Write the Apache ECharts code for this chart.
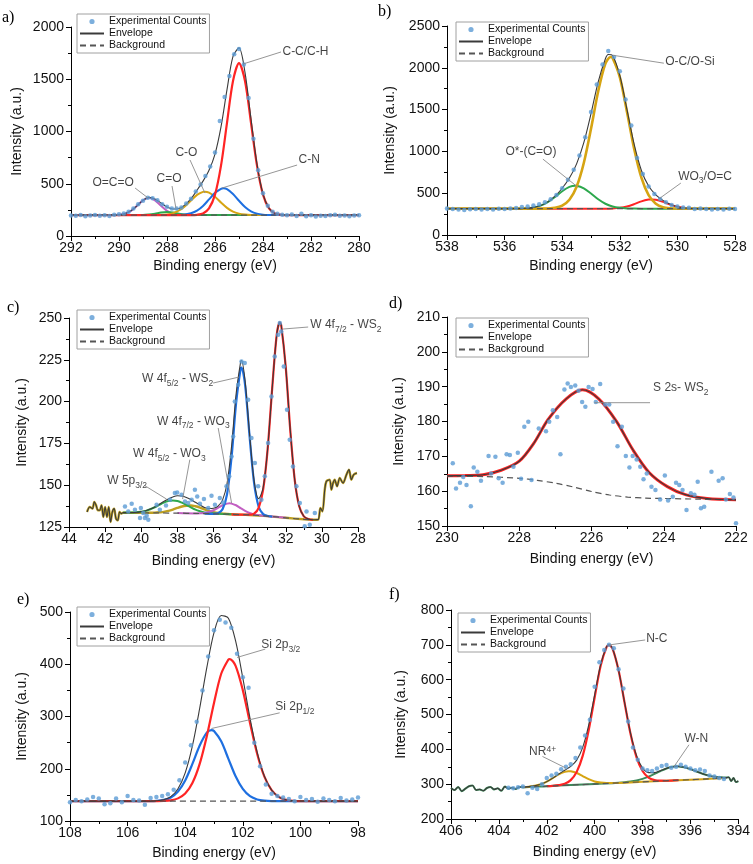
<!DOCTYPE html>
<html><head><meta charset="utf-8">
<script src="https://cdn.jsdelivr.net/npm/echarts@6/dist/echarts.min.js"></script>
<style>html,body{margin:0;padding:0;background:#fff}#c{width:753px;height:864px}</style>
</head><body><div id="c"></div>
<script>
// ---------------- Panel a : C 1s ----------------
const aScatter = [[292.0,197],[291.8,193],[291.6,200],[291.4,190],[291.2,196],[291.0,201],[290.8,194],[290.6,199],[290.4,191],[290.2,204],[290.0,208],[289.8,216],[289.6,232],[289.4,262],[289.2,305],[289.0,338],[288.8,367],[288.6,362],[288.4,342],[288.2,305],[288.0,281],[287.8,262],[287.6,262],[287.4,272],[287.2,311],[287.0,356],[286.8,425],[286.6,492],[286.4,575],[286.2,665],[286.0,800],[285.8,1100],[285.6,1330],[285.4,1530],[285.2,1740],[285.0,1790],[284.8,1640],[284.6,1320],[284.4,930],[284.2,630],[284.0,410],[283.8,290],[283.6,232],[283.4,212],[283.2,203],[283.0,199],[282.8,205],[282.6,192],[282.4,212],[282.2,190],[282.0,198],[281.8,186],[281.6,194],[281.4,192],[281.2,199],[281.0,204],[280.8,193],[280.6,197],[280.4,190],[280.2,195],[280.0,199]];
const aBackground = [[292,200],[280,200]];
const aCC = [[292,200],[287.0,200],[286.75,203],[286.5,216],[286.25,264],[286.0,396],[285.75,673],[285.5,1083],[285.25,1483],[285.0,1655],[284.75,1483],[284.5,1083],[284.25,673],[284.0,396],[283.75,264],[283.5,216],[283.25,203],[283.0,200],[280,200]];
const aCN = [[292,200],[287.75,200],[287.5,202],[287.25,206],[287.0,217],[286.75,242],[286.5,287],[286.25,350],[286.0,413],[285.75,452],[285.65,456],[285.5,448],[285.25,402],[285.0,337],[284.75,277],[284.5,236],[284.25,214],[284.0,204],[283.75,201],[283.5,200],[280,200]];
const aCO = [[292,200],[288.5,200],[288.25,202],[288.0,207],[287.75,219],[287.5,244],[287.25,286],[287.0,340],[286.75,393],[286.5,422],[286.42,424],[286.25,415],[286.0,375],[285.75,320],[285.5,269],[285.25,233],[285.0,214],[284.75,205],[284.5,201],[284.25,200],[280,200]];
const aC2O = [[292,200],[289.0,200],[288.75,205],[288.5,214],[288.25,225],[288.0,230],[287.75,225],[287.5,214],[287.25,205],[287.0,200],[280,200]];
const aOCO = [[292,200],[290.5,200],[290.25,201],[290.0,203],[289.75,214],[289.5,241],[289.25,289],[289.0,341],[288.75,365],[288.5,341],[288.25,289],[288.0,241],[287.75,214],[287.5,203],[287.25,201],[287.0,200],[280,200]];
const aEnvelope = [[292,200],[290.5,200],[290.25,201],[290.0,203],[289.75,214],[289.5,241],[289.25,289],[289.0,341],[288.75,370],[288.5,355],[288.25,316],[288.0,278],[287.75,258],[287.5,263],[287.25,298],[287.0,357],[286.75,438],[286.5,525],[286.25,629],[286.0,784],[285.75,1045],[285.5,1400],[285.25,1718],[285.0,1800],[284.75,1565],[284.5,1120],[284.25,687],[284.0,400],[283.75,265],[283.5,216],[283.25,203],[283.0,200],[280,200]];
const aNotes = [
  ['{n|C-C/C-H}', 283.21, 1751, 284.83, 1646, 283.25, 1761],
  ['{n|C-N}', 282.54, 718, 285.71, 459, 282.58, 679],
  ['{n|C-O}', 287.67, 785, 287.04, 727, 286.42, 411],
  ['{n|C=O}', 288.46, 536, 287.79, 478, 287.63, 268],
  ['{n|O=C=O}', 291.13, 498, 289.33, 459, 288.79, 364]
];

// ---------------- Panel b : O 1s ----------------
const bScatter = [[538.0,318],[537.8,312],[537.6,305],[537.4,300],[537.2,308],[537.0,312],[536.8,305],[536.6,310],[536.4,306],[536.2,313],[536.0,310],[535.8,318],[535.6,322],[535.4,335],[535.2,340],[535.0,352],[534.8,368],[534.6,392],[534.4,428],[534.2,478],[534.0,560],[533.8,660],[533.6,780],[533.4,950],[533.2,1170],[533.0,1470],[532.8,1800],[532.6,2040],[532.4,2200],[532.2,2130],[532.0,1960],[531.8,1620],[531.6,1310],[531.4,920],[531.2,730],[531.0,580],[530.8,490],[530.6,430],[530.4,392],[530.2,358],[530.0,340],[529.8,330],[529.6,325],[529.4,312],[529.2,318],[529.0,310],[528.8,305],[528.6,312],[528.4,306],[528.2,315],[528.0,310]];
const bBackground = [[538,315],[528,315]];
const bOC = [[538,315],[534.75,315],[534.5,317],[534.25,325],[534.0,351],[533.75,421],[533.5,577],[533.25,861],[533.0,1270],[532.75,1719],[532.5,2050],[532.32,2130],[532.25,2118],[532.0,1889],[531.75,1471],[531.5,1028],[531.25,685],[531.0,476],[530.75,374],[530.5,333],[530.25,320],[530.0,316],[529.75,315],[528,315]];
const bOstar = [[538,315],[535.75,315],[535.5,316],[535.25,320],[535.0,330],[534.75,352],[534.5,394],[534.25,454],[534.0,523],[533.75,575],[533.55,590],[533.5,589],[533.25,558],[533.0,496],[532.75,428],[532.5,374],[532.25,341],[532.0,325],[531.75,318],[531.5,316],[531.25,315],[528,315]];
const bWO3 = [[538,315],[532.5,315],[532.25,318],[532.0,325],[531.75,341],[531.5,369],[531.25,402],[531.0,424],[530.9,426],[530.75,421],[530.5,396],[530.25,363],[530.0,337],[529.75,323],[529.5,317],[529.25,315],[528,315]];
const bEnvelope = [[538,315],[536.0,315],[535.75,315],[535.5,316],[535.25,320],[535.0,330],[534.75,352],[534.5,396],[534.25,464],[534.0,559],[533.75,681],[533.5,851],[533.25,1104],[533.0,1451],[532.75,1832],[532.5,2109],[532.4,2159],[532.25,2147],[532.0,1909],[531.75,1500],[531.5,1083],[531.25,772],[531.0,585],[530.75,480],[530.5,414],[530.25,368],[530.0,338],[529.75,323],[529.5,317],[529.25,315],[528,315]];
const bNotes = [
  ['{n|O-C/O-Si}', 530.44, 2055, 532.24, 2150, 530.47, 2055],
  ['{n|O*-(C=O)}', 535.99, 980, 534.67, 908, 533.46, 573],
  ['{n|WO}{s|3}{n|/O=C}', 529.99, 681, 530.65, 430, 529.88, 621]
];

// ---------------- Panel c : W 4f ----------------
const cScatter = [[40.9,137.3],[40.72,134.3],[40.53,138.9],[40.35,135.3],[40.07,130.4],[40.02,136.4],[39.89,133.4],[39.8,130.4],[39.7,131.7],[39.61,129.4],[39.15,138.3],[38.97,135.3],[38.63,137.9],[38.41,141.3],[38.14,145.3],[38.01,145.7],[37.77,144.3],[37.58,140.3],[37.4,139.4],[37.21,141.3],[37.03,147.3],[36.9,143.3],[36.75,138.9],[36.53,141.7],[36.29,136.4],[36.11,143.7],[35.92,138.3],[35.65,142.3],[35.47,139.7],[35.28,149.3],[35.13,155.3],[35.0,167.2],[34.91,179.2],[34.82,200.1],[34.63,210.1],[34.45,224.0],[34.27,223.1],[34.08,201.1],[33.9,178.2],[33.71,163.3],[33.53,149.3],[33.35,141.3],[33.16,155.3],[32.98,175.2],[32.79,203.1],[32.61,227.0],[32.42,240.0],[32.33,247],[32.25,242],[32.11,221.0],[31.93,195.2],[31.78,177.2],[31.6,161.2],[31.41,149.3],[31.22,139.4],[30.95,125.4],[30.85,134.3],[30.67,126.4],[30.39,133.4]];
const cNoiseL = [[43.0,134],[42.85,137],[42.7,136],[42.6,140],[42.5,138],[42.4,135],[42.3,135],[42.2,138],[42.1,131],[42.0,137],[41.9,131],[41.8,137],[41.7,128],[41.6,134],[41.5,136],[41.4,130],[41.3,129],[41.2,134],[41.1,133]];
const cNoiseR = [[30.21,129.4],[30.08,136.4],[29.97,134.3],[29.84,147.3],[29.75,152.3],[29.57,153.3],[29.47,147.3],[29.38,151.3],[29.29,153.3],[29.16,149.3],[29.01,154.3],[28.83,151.3],[28.64,156.3],[28.5,159.3],[28.37,153.3],[28.24,156.3],[28.06,157.3]];
const cBackground = [[41.0,133.6],[40.0,133.5],[39.0,133.4],[38.0,133.3],[37.0,133.1],[36.0,132.9],[35.0,132.6],[34.0,132.2],[33.0,131.5],[32.5,131.0],[32.0,130.5],[31.5,130.0],[31.0,129.6],[30.5,129.3]];
const cWS2a = [[35.0,132.6],[34.5,132.4],[34.0,132.4],[33.75,133.05],[33.5,136.5],[33.25,147.5],[33.0,171.9],[32.75,208.05],[32.5,239.9],[32.33,247.4],[32.25,245.65],[32.0,220.6],[31.75,182.95],[31.5,152.9],[31.25,137.2],[31.0,131.4],[30.75,129.75],[30.5,129.3]];
const cWS2b = [[36.5,133.0],[36.0,132.9],[35.75,133.25],[35.5,135.6],[35.25,144.6],[35.0,166.8],[34.75,198.9],[34.5,219.7],[34.45,220.4],[34.25,209.9],[34.0,178.9],[33.75,151.05],[33.5,137.1],[33.25,132.7],[33.0,131.6],[32.75,131.25]];
const cWO3a = [[38.0,133.3],[37.0,133.1],[36.75,133.2],[36.5,133.4],[36.25,134.0],[36.0,135.0],[35.75,136.45],[35.5,138.0],[35.25,139.0],[35.1,139.2],[35.0,139.0],[34.75,138.0],[34.5,136.3],[34.25,134.7],[34.0,133.4],[33.75,132.55],[33.5,132.1],[33.25,131.7],[33.0,131.5],[32.0,130.5]];
const cW5p = [[41.0,133.6],[40.75,133.6],[40.5,133.6],[40.25,133.8],[40.0,134.2],[39.75,134.65],[39.5,135.6],[39.25,136.8],[39.0,138.2],[38.75,139.55],[38.5,140.5],[38.25,140.9],[38.0,140.6],[37.75,139.55],[37.5,138.2],[37.25,136.75],[37.0,135.4],[36.75,134.45],[36.5,133.7],[36.25,133.35],[36.0,133.1],[35.75,132.85],[35.0,132.6]];
const cWO3b = [[41.0,133.6],[40.0,133.5],[39.5,133.5],[39.25,133.6],[39.0,133.8],[38.75,134.05],[38.5,134.6],[38.25,135.4],[38.0,136.4],[37.75,137.25],[37.5,137.7],[37.25,137.85],[37.0,137.4],[36.75,136.65],[36.5,135.6],[36.25,134.65],[36.0,133.9],[35.75,133.35],[35.5,133.05],[35.25,132.8],[35.0,132.6],[34.0,132.2],[33.0,131.5],[32.0,130.5],[31.0,129.6],[30.5,129.3]];
const cEnvelope = [[41.0,133.6],[40.75,133.6],[40.5,133.6],[40.25,133.8],[40.0,134.2],[39.75,134.7],[39.5,135.7],[39.25,137.0],[39.0,138.6],[38.75,140.25],[38.5,141.8],[38.25,143.0],[38.0,143.7],[37.75,143.55],[37.5,142.7],[37.25,141.45],[37.0,139.75],[36.75,138.2],[36.5,136.7],[36.25,136.05],[36.0,136.2],[35.75,137.45],[35.5,141.05],[35.25,151.0],[35.0,173.2],[34.75,204.4],[34.5,223.6],[34.45,224.6],[34.25,212.3],[34.0,180.3],[33.75,152.55],[33.5,141.9],[33.25,148.5],[33.0,172.0],[32.75,208.05],[32.5,239.9],[32.33,247.4],[32.25,245.65],[32.0,220.6],[31.75,182.95],[31.5,152.9],[31.25,137.2],[31.0,131.4],[30.75,129.75],[30.5,129.3]];
const cNotes = [
  ['{n|W 4f}{s|7/2}{n| - WS}{s|2}', 30.67, 245.0, 32.15, 243.4, 30.76, 244.6],
  ['{n|W 4f}{s|5/2}{n| - WS}{s|2}', 39.98, 212.7, 36.02, 211.1, 34.58, 214.7],
  ['{n|W 4f}{s|7/2}{n| - WO}{s|3}', 39.15, 187.2, 35.74, 184.2, 35.0, 139.4],
  ['{n|W 4f}{s|5/2}{n| - WO}{s|3}', 40.48, 167.8, 37.31, 165.3, 37.71, 141.7],
  ['{n|W 5p}{s|3/2}', 41.91, 151.7, 39.8, 149.7, 38.6, 141.7]
];

// ---------------- Panel d : S 2s ----------------
const dScatter = [[229.84,168.0],[229.75,160.8],[229.64,162.4],[229.55,164.1],[229.46,161.8],[229.34,155.7],[229.26,166.8],[229.16,165.6],[229.06,163.0],[228.85,170.1],[228.78,165.1],[228.66,169.9],[228.57,163.7],[228.46,162.4],[228.35,170.6],[228.26,170.4],[228.16,167.0],[228.04,171.0],[227.95,163.6],[227.86,178.5],[227.75,179.9],[227.66,163.2],[227.46,178.0],[227.26,177.2],[227.17,179.9],[227.07,183.2],[226.95,181.3],[226.86,170.6],[226.75,189.2],[226.66,190.9],[226.57,189.9],[226.45,190.3],[226.36,188.8],[226.26,185.6],[226.17,184.2],[226.08,189.9],[225.97,189.3],[225.88,185.6],[225.76,190.8],[225.62,184.9],[225.51,184.9],[225.40,179.9],[225.28,172.9],[225.16,178.5],[225.05,170.1],[224.95,166.8],[224.86,170.1],[224.75,169.1],[224.65,167.0],[224.56,163.4],[224.47,165.1],[224.34,161.3],[224.23,160.3],[224.10,157.6],[223.97,164.5],[223.88,157.3],[223.75,158.4],[223.66,162.4],[223.57,161.8],[223.48,160.3],[223.37,154.6],[223.25,159.4],[223.15,159.0],[223.06,162.7],[222.97,155.1],[222.88,155.5],[222.68,165.6],[222.48,163.0],[222.37,163.7],[222.28,157.6],[222.17,159.2],[222.07,158.2],[222.0,150.8]];
const dBackground = [[230,164.3],[229,164.2],[228,163.7],[227.5,163.1],[227,162.3],[226.5,161.2],[226,159.9],[225.5,158.9],[225,158.3],[224.5,158.0],[224,157.9],[223,157.7],[222,157.5]];
const dS2s = [[230,164.4],[229.5,164.5],[229,164.7],[228.5,166.0],[228,168.6],[227.6,173.7],[227.2,180.6],[226.7,186.5],[226.25,189.1],[225.8,186.5],[225.3,179.9],[224.85,171.8],[224.4,165.3],[223.9,161.3],[223.4,159.0],[222.8,157.9],[222,157.5]];
const dEnvelope = [[230,164.4],[229.5,164.5],[229,164.7],[228.5,166.0],[228,168.6],[227.6,173.7],[227.2,180.6],[226.7,186.5],[226.25,189.1],[225.8,186.5],[225.3,179.9],[224.85,171.8],[224.4,165.3],[223.9,161.3],[223.4,159.0],[222.8,157.9],[222,157.5]];
const dNotes = [
  ['{n|S 2s- WS}{s|2}', 224.31, 189.2, 225.92, 185.4, 224.38, 185.4]
];

// ---------------- Panel e : Si 2p ----------------
const eScatter = [[108.0,136],[107.8,140],[107.6,138],[107.4,141],[107.2,146],[107.0,143],[106.8,132],[106.6,134],[106.4,143],[106.2,136],[106.0,148],[105.8,140],[105.6,139],[105.4,131],[105.2,144],[105.0,146],[104.8,148],[104.6,151],[104.4,160],[104.2,178],[104.0,212],[103.8,245],[103.6,290],[103.4,350],[103.2,415],[103.0,465],[102.8,485],[102.6,480],[102.4,470],[102.2,420],[102.0,375],[101.8,355],[101.6,250],[101.4,205],[101.2,170],[101.0,152],[100.8,148],[100.6,145],[100.4,142],[100.2,138],[100.0,146],[99.8,140],[99.6,142],[99.4,137],[99.2,143],[99.0,140],[98.8,138],[98.6,144],[98.4,139],[98.2,141],[98.0,145]];
const eBackground = [[108,138],[98,138]];
const eSi32 = [[108,138],[105.25,138],[105.0,138.1],[104.75,138.4],[104.5,139.6],[104.25,143.3],[104.0,152.5],[103.75,172.6],[103.5,208.8],[103.25,262.4],[103.0,326.0],[102.75,381.8],[102.5,409.2],[102.45,410],[102.25,397.0],[102.0,350.5],[101.75,287.6],[101.5,228.3],[101.25,184.8],[101.0,158.9],[100.75,146.0],[100.5,140.6],[100.25,138.7],[100.0,138.2],[98,138]];
const eSi12 = [[108,138],[105.5,138],[105.25,138.1],[105.0,138.6],[104.75,140.3],[104.5,145.1],[104.25,156.4],[104.0,177.7],[103.75,209.2],[103.5,244.0],[103.25,269.0],[103.09,274],[103.0,272.4],[102.75,252.5],[102.5,219.0],[102.25,185.6],[102.0,161.3],[101.75,147.4],[101.5,141.2],[101.25,138.9],[101.0,138.2],[98,138]];
const eEnvelope = [[108,138],[105.5,138],[105.25,138.1],[105.0,138.7],[104.75,140.7],[104.5,146.7],[104.25,161.7],[104.0,192.2],[103.75,243.8],[103.5,314.8],[103.25,393.4],[103.0,460.4],[102.75,493.3],[102.5,488.2],[102.25,444.6],[102.0,373.8],[101.75,297.0],[101.5,231.5],[101.25,185.7],[101.0,159.1],[100.75,146.0],[100.5,140.6],[100.25,138.7],[100.0,138.2],[98,138]];
const eNotes = [
  ['{n|Si 2p}{s|3/2}', 101.38, 434, 102.2, 413, 101.22, 429],
  ['{n|Si 2p}{s|1/2}', 100.89, 315, 103.09, 277, 100.72, 307]
];

// ---------------- Panel f : N 1s ----------------
const fScatter = [[403.6,290],[403.4,288],[403.2,291],[403.0,293],[402.8,274],[402.6,290],[402.4,286],[402.2,300],[402.0,318],[401.8,325],[401.6,330],[401.4,343],[401.2,350],[401.0,357],[400.8,375],[400.6,405],[400.4,440],[400.2,485],[400.0,580],[399.8,650],[399.6,685],[399.4,700],[399.2,690],[399.0,630],[398.8,575],[398.6,480],[398.4,405],[398.2,370],[398.0,345],[397.8,340],[397.6,338],[397.4,345],[397.2,352],[397.0,355],[396.8,347],[396.6,350],[396.4,356],[396.2,350],[396.0,345],[395.8,340],[395.6,342],[395.4,338],[395.2,325],[395.0,322],[394.8,318],[394.6,315]];
const fNoiseL = [[406.0,289],[405.85,283],[405.7,292],[405.55,280],[405.4,287],[405.25,294],[405.1,296],[404.95,283],[404.8,285],[404.65,281],[404.5,289],[404.35,292],[404.2,285],[404.05,288],[403.9,281],[403.75,293],[403.6,287],[403.45,290],[403.3,286],[403.15,292],[403.0,291.2]];
const fNoiseR = [[394.4,320],[394.3,309],[394.2,318],[394.1,306],[394.0,309]];
const fBackground = [[403.0,291.2],[394.5,317.6]];
const fNC = [[402.0,294.3],[401.75,295.1],[401.5,297.15],[401.25,301.2],[401.0,311.6],[400.75,335.3],[400.5,381.15],[400.25,454.9],[400.0,549.0],[399.75,639.9],[399.5,694.0],[399.4,699.4],[399.25,688.3],[399.0,626.0],[398.75,533.5],[398.5,443.75],[398.25,377.0],[398.0,337.7],[397.75,319.0],[397.5,311.85],[397.25,310.0],[397.0,309.8],[396.5,311.35]];
const fNR = [[403.0,291.2],[402.75,292.9],[402.5,295.35],[402.25,299.9],[402.0,307.3],[401.75,317.3],[401.5,327.85],[401.25,335.4],[401.1,337.2],[401.0,336.8],[400.75,332.0],[400.5,323.25],[400.25,314.3],[400.0,307.9],[399.75,304.5],[399.5,303.15],[399.25,303.1],[399.0,303.6],[398.0,306.7],[397.0,309.8],[396.0,312.9],[395.0,316.0],[394.5,317.6]];
const fWN = [[402.0,294.3],[401.0,297.4],[400.0,300.5],[399.25,302.8],[399.0,304.0],[398.75,305.5],[398.5,307.55],[398.25,310.7],[398.0,315.3],[397.75,321.7],[397.5,329.45],[397.25,337.8],[397.0,345.1],[396.75,349.9],[396.6,351.3],[396.5,351.05],[396.25,348.5],[396.0,343.1],[395.75,336.5],[395.5,330.05],[395.25,324.8],[395.0,321.4],[394.75,319.6],[394.5,318.9]];
const fEnvelope = [[402.75,292.9],[402.5,295.35],[402.25,299.9],[402.0,307.3],[401.75,317.3],[401.5,329.15],[401.25,340.0],[401.0,351.0],[400.75,369.1],[400.5,405.45],[400.25,469.5],[400.0,556.4],[399.75,643.1],[399.5,695.05],[399.4,700.1],[399.25,688.8],[399.0,626.4],[398.75,534.6],[398.5,446.15],[398.25,381.8],[398.0,346.3],[397.75,333.2],[397.5,333.05],[397.25,338.8],[397.0,345.3],[396.75,349.9],[396.5,351.05],[396.25,348.5],[396.0,343.1],[395.75,336.5],[395.5,330.05],[395.25,324.8],[395.0,321.4],[394.75,319.6],[394.5,318.9]];
const fNotes = [
  ['{n|N-C}', 397.87, 714, 399.4, 699.7, 397.89, 714],
  ['{n|NR}{p|4+}', 402.76, 389.2, 402.18, 379.6, 401.2, 346.2],
  ['{n|W-N}', 396.27, 425.5, 396.06, 413.1, 396.68, 351]
];

// ---------------- layout ----------------
const FONT = "'Liberation Sans', Arial, Helvetica, sans-serif";
const SERIF = "'Liberation Serif', 'Times New Roman', serif";
const COL = {dot:'#5b9bd5', env:'#3a3a3a', bg:'#555555', red:'#ff2424', blue:'#1e6fe0', gold:'#d6a412', green:'#2da84d', purple:'#c25fc2', olive:'#bfa020', dkgreen:'#3d8a5a', lead:'#8a8a8a'};
const PANELS = [
  {grid:{left:71,top:27,width:288,height:209}, x:[280,292], y:[0,2000,500], xGap:23, yGap:47, legend:[77,14], title:['a)',2,10]},
  {grid:{left:447,top:26,width:288,height:209}, x:[528,538], y:[0,2500,500], xGap:24, yGap:50, legend:[456,22], title:['b)',378,4]},
  {grid:{left:69,top:318,width:289,height:209}, x:[28,44], y:[125,250,25], xGap:27, yGap:40, legend:[77,310], title:['c)',7,300]},
  {grid:{left:447,top:317,width:289,height:209}, x:[222,230], y:[150,210,10], xGap:26, yGap:41, legend:[456,318], title:['d)',389,296]},
  {grid:{left:70,top:612,width:288,height:209}, x:[98,108], y:[100,500,100], xGap:25, yGap:41, legend:[77,607], title:['e)',17,592]},
  {grid:{left:451,top:610,width:288,height:209}, x:[394,406], y:[200,800,100], xGap:26, yGap:43, legend:[458,613], title:['f)',389,587]}
];
const RICH = {
  n:{fontSize:12, fontFamily:FONT, color:'#111', lineHeight:15, verticalAlign:'top'},
  s:{fontSize:8.5, fontFamily:FONT, color:'#111', lineHeight:9, verticalAlign:'bottom'},
  p:{fontSize:8.5, fontFamily:FONT, color:'#111', lineHeight:9, verticalAlign:'top'}
};
const DOT_ICON = 'path://M0,0L0.01,0M24,10L24.01,10M14.6,5A2.6,2.6,0,1,1,9.4,5A2.6,2.6,0,1,1,14.6,5Z';

const series = [];
function L(gi, name, data, color, width, extra) {
  series.push(Object.assign({type:'line', name:name, xAxisIndex:gi, yAxisIndex:gi, data:data, symbol:'none', smooth:0.3,
    lineStyle:{color:color, width:width}, itemStyle:{color:color}, silent:true, z:2}, extra || {}));
}
function S(gi, data) {
  series.push({type:'scatter', name:'Experimental Counts', xAxisIndex:gi, yAxisIndex:gi, data:data, symbolSize:4.5,
    itemStyle:{color:COL.dot}, silent:true, z:4});
}
function BG(gi, data) { L(gi, 'Background', data, COL.bg, 1.2, {smooth:0.3, lineStyle:{color:COL.bg, width:1.2, type:[6,4]}, z:3}); }
function ENV(gi, data) { L(gi, 'Envelope', data, COL.env, 1.1, {z:3}); }
function NOTES(gi, arr) {
  arr.forEach(function (n) {
    series.push({type:'line', xAxisIndex:gi, yAxisIndex:gi, data:[[n[3],n[4]],[n[5],n[6]]], symbol:'none',
      lineStyle:{color:COL.lead, width:0.9}, silent:true, z:5});
    series.push({type:'scatter', xAxisIndex:gi, yAxisIndex:gi, data:[[n[1],n[2]]], symbolSize:1,
      itemStyle:{color:'rgba(0,0,0,0)'}, silent:true, z:6,
      label:{show:true, position:'right', distance:0, formatter:n[0], rich:RICH}});
  });
}

// a
BG(0, aBackground);
L(0, 'a-OCO', aOCO, COL.purple, 2);
L(0, 'a-C2O', aC2O, COL.green, 2);
L(0, 'a-CO', aCO, COL.gold, 2);
L(0, 'a-CN', aCN, COL.blue, 2);
L(0, 'a-CC', aCC, COL.red, 2.2);
ENV(0, aEnvelope);
S(0, aScatter);
NOTES(0, aNotes);
// b
BG(1, bBackground);
L(1, 'b-WO3', bWO3, COL.red, 2);
L(1, 'b-Ostar', bOstar, COL.green, 2);
L(1, 'b-OC', bOC, COL.gold, 2.6);
ENV(1, bEnvelope);
S(1, bScatter);
NOTES(1, bNotes);
// c
BG(2, cBackground);
L(2, 'c-WO3b', cNoiseL.concat(cWO3b, cNoiseR), COL.olive, 2.4);
L(2, 'c-W5p', cW5p, COL.green, 2);
L(2, 'c-WO3a', cWO3a, COL.purple, 2);
L(2, 'c-WS2b', cWS2b, COL.blue, 2.2);
L(2, 'c-WS2a', cWS2a, COL.red, 2.2);
ENV(2, cNoiseL.concat(cEnvelope, cNoiseR));
S(2, cScatter);
NOTES(2, cNotes);
// d
BG(3, dBackground);
L(3, 'd-S2s', dS2s, COL.red, 3);
ENV(3, dEnvelope);
S(3, dScatter);
NOTES(3, dNotes);
// e
BG(4, eBackground);
L(4, 'e-Si12', eSi12, COL.blue, 2.2);
L(4, 'e-Si32', eSi32, COL.red, 2.2);
ENV(4, eEnvelope);
S(4, eScatter);
NOTES(4, eNotes);
// f
BG(5, fBackground);
L(5, 'f-WN', fNoiseL.concat(fWN, fNoiseR), COL.dkgreen, 2);
L(5, 'f-NR', fNR, COL.gold, 2);
L(5, 'f-NC', fNC, COL.red, 2.2);
ENV(5, fNoiseL.concat(fEnvelope, fNoiseR));
S(5, fScatter);
NOTES(5, fNotes);

const option = {
  animation:false,
  backgroundColor:'#ffffff',
  textStyle:{fontFamily:FONT},
  title: PANELS.map(function (p) { return {text:p.title[0], left:p.title[1], top:p.title[2], padding:0,
    textStyle:{fontFamily:SERIF, fontSize:16, fontWeight:'normal', color:'#000'}}; }),
  legend: PANELS.map(function (p) { return {
    orient:'vertical', left:p.legend[0], top:p.legend[1], itemWidth:24, itemHeight:10, itemGap:1,
    padding:[2,3,2,2], borderColor:'#a0a0a0', borderWidth:1, backgroundColor:'#fff', selectedMode:false,
    textStyle:{fontSize:10.5, fontFamily:FONT, color:'#111', lineHeight:11},
    data:[{name:'Experimental Counts', icon:DOT_ICON},
          {name:'Envelope', itemStyle:{opacity:0}},
          {name:'Background', itemStyle:{opacity:0}}]}; }),
  grid: PANELS.map(function (p) { return Object.assign({containLabel:false}, p.grid); }),
  xAxis: PANELS.map(function (p, i) { return {
    gridIndex:i, type:'value', min:p.x[0], max:p.x[1], interval:2, inverse:true,
    name:'Binding energy (eV)', nameLocation:'middle', nameGap:p.xGap,
    nameTextStyle:{fontSize:14, fontFamily:FONT, color:'#111'},
    axisLine:{show:true, onZero:false, lineStyle:{color:'#000', width:1}},
    axisTick:{show:true, inside:false, length:5, lineStyle:{color:'#000'}},
    minorTick:{show:true, splitNumber:2, length:3, lineStyle:{color:'#000'}},
    splitLine:{show:false}, minorSplitLine:{show:false},
    axisLabel:{fontSize:14, fontFamily:FONT, color:'#111', margin:5, formatter:function (v) { return String(v); }}}; }),
  yAxis: PANELS.map(function (p, i) { return {
    gridIndex:i, type:'value', min:p.y[0], max:p.y[1], interval:p.y[2],
    name:'Intensity (a.u.)', nameLocation:'middle', nameGap:p.yGap, nameRotate:90,
    nameTextStyle:{fontSize:14, fontFamily:FONT, color:'#111'},
    axisLine:{show:true, onZero:false, lineStyle:{color:'#000', width:1}},
    axisTick:{show:true, inside:false, length:5, lineStyle:{color:'#000'}},
    minorTick:{show:true, splitNumber:2, length:3, lineStyle:{color:'#000'}},
    splitLine:{show:false}, minorSplitLine:{show:false},
    axisLabel:{fontSize:14, fontFamily:FONT, color:'#111', margin:7, formatter:function (v) { return String(v); }}}; }),
  series: series
};
const chart = echarts.init(document.getElementById('c'), null, {renderer:'canvas', width:753, height:864});
chart.setOption(option);
</script></body></html>
